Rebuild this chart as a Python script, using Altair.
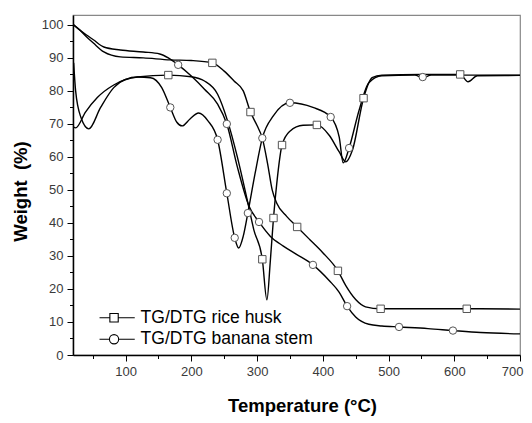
import altair as alt
import pandas as pd

# ---- data ----
tg_rh_T = [21, 30, 40, 51, 67, 92, 127, 168, 200, 232, 250, 265, 279, 290, 300, 308, 316, 323, 330, 345, 361, 380, 400, 423, 435, 450, 465, 488, 550, 619, 700]
tg_rh_v = [100, 98.5, 96.5, 94.5, 91.8, 90.3, 90, 89.4, 89.2, 88.5, 86, 83, 80, 73.6, 69.5, 65.7, 58, 50, 46, 42, 38.8, 35, 31, 25.5, 21, 16.8, 14.6, 14, 14, 14, 13.9]

tg_bs_T = [21, 30, 40, 51, 67, 92, 127, 152, 165, 180, 200, 220, 240, 254, 270, 288, 303, 320, 340, 360, 385, 410, 425, 437, 450, 470, 490, 516, 560, 598, 640, 700]
tg_bs_v = [100, 98.5, 97, 95.5, 93.3, 92.4, 91.8, 91.2, 90, 87.9, 84.5, 80.5, 76, 70, 57, 45, 40.3, 36, 33, 30.5, 27.3, 22.5, 19, 14.8, 11.5, 9.3, 8.8, 8.5, 8.0, 7.4, 6.8, 6.4]

dtg_rh_T = [21, 24, 39, 57, 82, 118, 165, 200, 220, 240, 255, 270, 285, 295, 308, 315, 320, 325, 330, 338, 350, 370, 391, 410, 425, 435, 445, 462, 475, 490, 550, 600, 609, 621, 635, 700]
dtg_rh_v = [69, 68.8, 73.6, 78, 81.8, 84.2, 84.8, 84.3, 83, 79, 71, 60, 47, 38, 29, 16.7, 28, 41.5, 52, 63.6, 67.8, 69.6, 69.7, 66.5, 61.5, 58.5, 62, 77.8, 84, 84.8, 85, 85, 85, 82.8, 84.6, 84.7]

dtg_bs_T = [21, 24, 32, 44, 62, 82, 100, 118, 138, 155, 168, 178, 186, 198, 211, 225, 240, 254, 266, 272, 279, 286, 297, 308, 325, 350, 385, 412, 425, 431, 440, 455, 470, 490, 540, 552, 565, 600, 700]
dtg_bs_v = [88.5, 80, 72, 68.5, 75, 81, 83.5, 84.2, 84, 81, 75, 70.5, 69.4, 71.5, 73.3, 71, 65.2, 49, 35.5, 32.4, 36, 43, 55, 65.7, 72.5, 76.4, 75, 72.1, 66, 58.2, 62.7, 74, 82.5, 84.6, 84.8, 84, 84.8, 84.8, 84.8]

# marker positions
rh_mark_T = [232, 290, 361, 423, 488, 619, 165, 308, 325, 338, 391, 462, 609]
rh_mark_v = [88.5, 73.6, 38.8, 25.5, 14, 14, 84.8, 29, 41.5, 63.6, 69.7, 77.8, 85]
bs_mark_T = [180, 254, 303, 385, 437, 516, 598, 168, 240, 254, 266, 286, 308, 350, 412, 440, 552]
bs_mark_v = [87.9, 70, 40.3, 27.3, 14.8, 8.5, 7.4, 75, 65.2, 49, 35.5, 43, 65.7, 76.4, 72.1, 62.7, 84.2]

legend_labels = ["TG/DTG rice husk", "TG/DTG banana stem"]
x_ticks = [50, 100, 150, 200, 250, 300, 350, 400, 450, 500, 550, 600, 650, 700]
y_ticks = [0, 5, 10, 15, 20, 25, 30, 35, 40, 45, 50, 55, 60, 65, 70, 75, 80, 85, 90, 95, 100]

# ---- tables ----
rows = []
for name, TT, VV in [("tg_rh", tg_rh_T, tg_rh_v), ("tg_bs", tg_bs_T, tg_bs_v),
                     ("dtg_rh", dtg_rh_T, dtg_rh_v), ("dtg_bs", dtg_bs_T, dtg_bs_v)]:
    for t, v in zip(TT, VV):
        rows.append({"T": t, "v": v, "curve": name})
lines_df = pd.DataFrame(rows)

mrows = []
for t, v in zip(rh_mark_T, rh_mark_v):
    mrows.append({"T": t, "v": v, "material": "rh"})
for t, v in zip(bs_mark_T, bs_mark_v):
    mrows.append({"T": t, "v": v, "material": "bs"})
markers_df = pd.DataFrame(mrows)

legend_df = pd.DataFrame({"label": legend_labels})

FONT = "Liberation Sans"
x_scale = alt.Scale(domain=[20, 700], nice=False, zero=False)
y_scale = alt.Scale(domain=[0, 103], nice=False, zero=False)

x_tick_size = {"condition": {"test": "datum.value % 100 === 0", "value": 6}, "value": 3.5}
y_tick_size = {"condition": {"test": "datum.value % 10 === 0", "value": 6}, "value": 3.5}

major_x = alt.Axis(values=x_ticks, title="Temperature (°C)", orient="bottom", grid=False,
                   tickSize=x_tick_size, tickColor="black", domainColor="black", domainWidth=1.5,
                   labelExpr="datum.value % 100 === 0 ? datum.label : ''",
                   labelOverlap=False, labelFlush=True, labelFlushOffset=3,
                   labelFontSize=13, labelColor="#3a3a3a", labelPadding=4, labelFont=FONT,
                   titleFont=FONT, titleFontSize=18.5, titleFontWeight="bold",
                   titleX=229, titleY=56, titleAlign="center", titleBaseline="alphabetic",
                   titleColor="black")
major_y = alt.Axis(values=y_ticks, title="Weight\u00a0 (%)", orient="left", grid=False,
                   tickSize=y_tick_size, tickColor="black", domainColor="black", domainWidth=1.5,
                   labelExpr="datum.value % 10 === 0 ? datum.label : ''",
                   labelOverlap=False, labelFlush=False,
                   labelFontSize=13, labelColor="#3a3a3a", labelPadding=4, labelFont=FONT,
                   titleFont=FONT, titleFontSize=18.5, titleFontWeight="bold",
                   titleX=-53, titleY=176, titleAngle=270, titleAlign="center",
                   titleBaseline="middle", titleColor="black")

lines = alt.Chart(lines_df).mark_line(color="black", strokeWidth=1.4, interpolate="monotone").encode(
    x=alt.X("T:Q", scale=x_scale, axis=major_x),
    y=alt.Y("v:Q", scale=y_scale, axis=major_y),
    detail="curve:N",
)

markers = alt.Chart(markers_df).mark_point(filled=True, fill="white", stroke="#555555",
                                            strokeWidth=1, opacity=1, size=55).encode(
    x=alt.X("T:Q", scale=x_scale, axis=major_x),
    y=alt.Y("v:Q", scale=y_scale, axis=major_y),
    shape=alt.Shape("material:N", scale=alt.Scale(domain=["rh", "bs"], range=["square", "circle"]),
                    legend=None),
)

sq_path = "M-3.47,0H-1M1,0H4.95M-1,-1H1V1H-1Z"
ci_path = "M-3.47,0H-1.1M1.1,0H4.95M1.1,0A1.1,1.1,0,1,1,-1.1,0A1.1,1.1,0,1,1,1.1,0Z"

legend_layer = alt.Chart(legend_df).transform_filter("false").mark_point(
    filled=False, color="black", strokeWidth=1.1, opacity=1).encode(
    x=alt.value(0), y=alt.value(0),
    shape=alt.Shape("label:N", scale=alt.Scale(domain=legend_labels, range=[sq_path, ci_path]),
                    legend=alt.Legend(orient="none", legendX=32.3, legendY=294, title="",
                                      symbolSize=70, symbolStrokeColor="black",
                                      symbolStrokeWidth=1.1,
                                      labelFontSize=17.5, labelFont=FONT, labelColor="black",
                                      labelLimit=400, labelOffset=17.8, rowPadding=2.5, padding=0)),
)

chart = alt.layer(lines, markers, legend_layer).resolve_scale(
    shape="independent").properties(
    width=447, height=340,
    autosize=alt.AutoSizeParams(type="none"),
    padding={"left": 65, "top": 7, "right": 4, "bottom": 62},
).configure_view(stroke="#888888", strokeWidth=1.2).configure_axis(labelOverlap=False)

chart.save("out.html", embed_options={"renderer": "svg", "actions": False})
